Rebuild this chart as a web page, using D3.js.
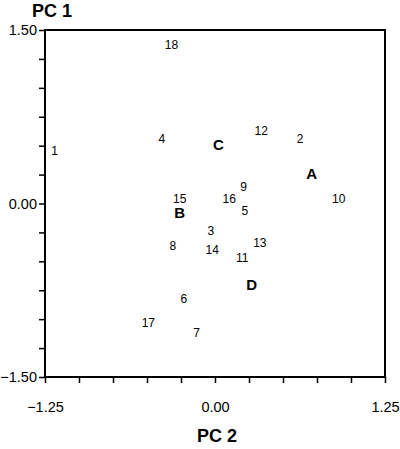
<!DOCTYPE html>
<html>
<head>
<meta charset="utf-8">
<script src="https://cdn.jsdelivr.net/npm/d3@7"></script>
<style>
  body { margin: 0; background: #fff; }
  svg { display: block; }
</style>
</head>
<body>
<div id="chart"></div>
<script>
// point labels and their scores (PC 2 on x, PC 1 on y)
var labels = ["1","2","3","4","5","6","7","8","9","10","11","12","13","14","15","16","17","18","A","B","C","D"];
var pc2 = [-1.18, 0.625, -0.03, -0.39, 0.22, -0.23, -0.135, -0.31, 0.21, 0.91, 0.20, 0.34, 0.33, -0.02, -0.26, 0.105, -0.49, -0.32, 0.71, -0.26, 0.025, 0.27];
var pc1 = [0.46, 0.56, -0.235, 0.56, -0.06, -0.82, -1.12, -0.365, 0.145, 0.04, -0.465, 0.63, -0.34, -0.40, 0.045, 0.04, -1.03, 1.37, 0.255, -0.08, 0.51, -0.70];
var xTickLabels = [-1.25, 0, 1.25];
var yTickLabels = [-1.5, 0, 1.5];

var margin = {top: 30, right: 15, bottom: 72, left: 45},
    width = 400 - margin.left - margin.right,
    height = 449 - margin.top - margin.bottom;

var svg = d3.select("#chart")
  .append("svg")
    .attr("width", 400)
    .attr("height", 449)
  .append("g")
    .attr("transform", "translate(" + margin.left + "," + margin.top + ")");

var x = d3.scaleLinear().domain([-1.25, 1.25]).range([0, width]);
var y = d3.scaleLinear().domain([-1.5, 1.5]).range([height, 0]);

function onlyMajor(list) {
  return function(d){
    return list.some(function(t){ return Math.abs(t - d) < 1e-6; }) ? d3.format(".2f")(d) : "";
  };
}

// x axis, ticks every 0.25
var xAxis = svg.append("g")
  .attr("transform", "translate(0," + height + ")")
  .call(d3.axisBottom(x)
    .tickValues(d3.range(-1.25, 1.26, 0.25))
    .tickSize(6)
    .tickPadding(19)
    .tickFormat(onlyMajor(xTickLabels)));

// y axis, ticks every 0.25
var yAxis = svg.append("g")
  .call(d3.axisLeft(y)
    .tickValues(d3.range(-1.5, 1.51, 0.25))
    .tickSize(6)
    .tickPadding(2)
    .tickFormat(onlyMajor(yTickLabels)));

[xAxis, yAxis].forEach(function(a){
  a.selectAll("text")
    .attr("font-family", "Arial, 'Liberation Sans', sans-serif")
    .attr("font-size", "14.5px")
    .attr("fill", "#000");
  a.selectAll("line").attr("stroke", "#000").attr("stroke-width", 1.5);
  a.select(".domain").remove();
});

// frame
svg.append("rect")
  .attr("x", 0)
  .attr("y", 0)
  .attr("width", width)
  .attr("height", height)
  .attr("fill", "none")
  .attr("stroke", "#000")
  .attr("stroke-width", 2);

// labels as markers
var pts = labels.map(function(l, i){ return {name: l, x: pc2[i], y: pc1[i]}; });

svg.selectAll(".pt")
  .data(pts)
  .enter()
  .append("text")
    .attr("class", "pt")
    .attr("x", function(d){ return x(d.x); })
    .attr("y", function(d){ return y(d.y); })
    .attr("dy", "0.36em")
    .attr("text-anchor", "middle")
    .attr("font-family", "Arial, 'Liberation Sans', sans-serif")
    .attr("font-size", function(d){ return isNaN(+d.name) ? "15px" : "12px"; })
    .attr("font-weight", function(d){ return isNaN(+d.name) ? "bold" : "normal"; })
    .attr("fill", "#000")
    .text(function(d){ return d.name; });

// axis titles
d3.select("svg").append("text")
  .attr("x", 32)
  .attr("y", 17)
  .attr("font-family", "Arial, 'Liberation Sans', sans-serif")
  .attr("font-size", "18px")
  .attr("font-weight", "bold")
  .text("PC 1");

d3.select("svg").append("text")
  .attr("x", margin.left + x(0) + 2)
  .attr("y", 442)
  .attr("text-anchor", "middle")
  .attr("font-family", "Arial, 'Liberation Sans', sans-serif")
  .attr("font-size", "18px")
  .attr("font-weight", "bold")
  .text("PC 2");
</script>
</body>
</html>
